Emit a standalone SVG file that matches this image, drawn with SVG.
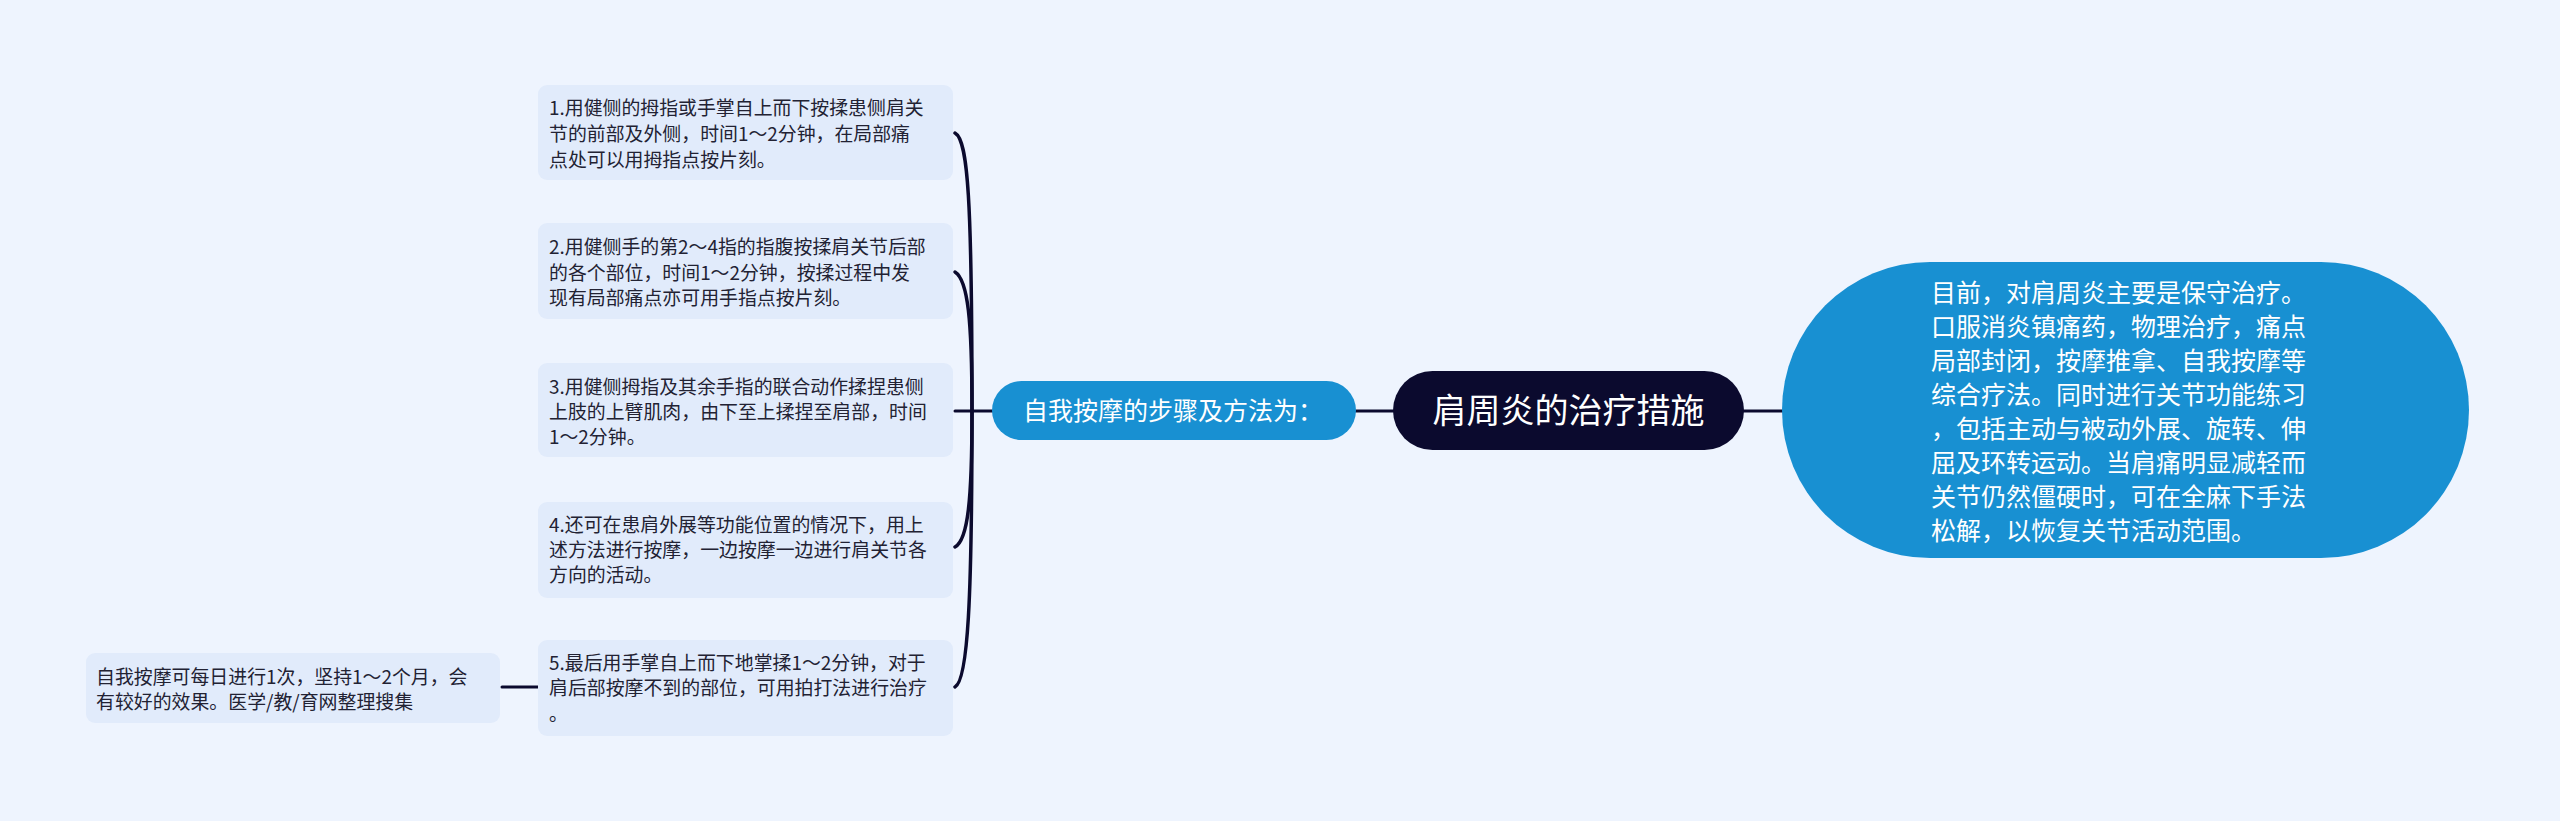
<svg xmlns="http://www.w3.org/2000/svg" width="2560" height="821" viewBox="0 0 2560 821">
<style>
.leaf{fill:#e1ebfb;}
.lt{font-family:"Noto Sans CJK SC","Noto Sans",sans-serif;font-size:18.9px;fill:#222233;}
.wt{font-family:"Noto Sans CJK SC","Noto Sans",sans-serif;fill:#ffffff;}
.con{fill:none;stroke:#0b0a2e;stroke-width:3;stroke-linecap:round;}
.cur{fill:none;stroke:#0b0a2e;stroke-width:3.5;stroke-linecap:round;}
</style>
<rect x="0" y="0" width="2560" height="821" fill="#eef4fe"/>
<g id="connectors">
<path class="con" d="M1356 411 L1393 411"/>
<path class="con" d="M1744 411 L1782 411"/>
<path class="con" d="M992 411 L955 411"/>
<path class="cur" d="M972 411 C972 200 968 140 955 133"/>
<path class="cur" d="M972 411 C972 320 968 280 955 272"/>
<path class="cur" d="M972 411 C972 500 968 540 955 547"/>
<path class="cur" d="M972 411 C972 600 968 680 955 687"/>
<path class="con" d="M538 687 L502 687"/>
</g>
<g id="center">
<rect x="1393" y="371" width="351" height="79" rx="39.5" fill="#0b0a2e"/>
<text class="wt" x="1568.5" y="423" font-size="34" text-anchor="middle">肩周炎的治疗措施</text>
</g>
<g id="right-node">
<rect x="1782" y="262" width="687" height="296" rx="148" ry="148" fill="#1890d2"/>
<text class="wt" font-size="25">
<tspan x="1931" y="302">目前，对肩周炎主要是保守治疗。</tspan>
<tspan x="1931" y="336">口服消炎镇痛药，物理治疗，痛点</tspan>
<tspan x="1931" y="370">局部封闭，按摩推拿、自我按摩等</tspan>
<tspan x="1931" y="404">综合疗法。同时进行关节功能练习</tspan>
<tspan x="1931" y="438">，包括主动与被动外展、旋转、伸</tspan>
<tspan x="1931" y="472">屈及环转运动。当肩痛明显减轻而</tspan>
<tspan x="1931" y="506">关节仍然僵硬时，可在全麻下手法</tspan>
<tspan x="1931" y="540">松解，以恢复关节活动范围。</tspan>
</text>
</g>
<g id="steps">
<rect x="992" y="381" width="364" height="59" rx="29.5" fill="#1890d2"/>
<text class="wt" x="1023" y="419.5" font-size="25">自我按摩的步骤及方法为：</text>
</g>
<g id="step1">
<rect class="leaf" x="538" y="85" width="415" height="95" rx="9"/>
<text class="lt"><tspan x="549" y="115">1.用健侧的拇指或手掌自上而下按揉患侧肩关</tspan><tspan x="549" y="141">节的前部及外侧，时间1～2分钟，在局部痛</tspan><tspan x="549" y="167">点处可以用拇指点按片刻。</tspan></text>
</g>
<g id="step2">
<rect class="leaf" x="538" y="223" width="415" height="96" rx="9"/>
<text class="lt"><tspan x="549" y="254">2.用健侧手的第2～4指的指腹按揉肩关节后部</tspan><tspan x="549" y="280">的各个部位，时间1～2分钟，按揉过程中发</tspan><tspan x="549" y="305">现有局部痛点亦可用手指点按片刻。</tspan></text>
</g>
<g id="step3">
<rect class="leaf" x="538" y="363" width="415" height="94" rx="9"/>
<text class="lt"><tspan x="549" y="394">3.用健侧拇指及其余手指的联合动作揉捏患侧</tspan><tspan x="549" y="419">上肢的上臂肌肉，由下至上揉捏至肩部，时间</tspan><tspan x="549" y="444">1～2分钟。</tspan></text>
</g>
<g id="step4">
<rect class="leaf" x="538" y="502" width="415" height="96" rx="9"/>
<text class="lt"><tspan x="549" y="532">4.还可在患肩外展等功能位置的情况下，用上</tspan><tspan x="549" y="557">述方法进行按摩，一边按摩一边进行肩关节各</tspan><tspan x="549" y="582">方向的活动。</tspan></text>
</g>
<g id="step5">
<rect class="leaf" x="538" y="640" width="415" height="96" rx="9"/>
<text class="lt"><tspan x="549" y="670">5.最后用手掌自上而下地掌揉1～2分钟，对于</tspan><tspan x="549" y="695">肩后部按摩不到的部位，可用拍打法进行治疗</tspan><tspan x="549" y="721">。</tspan></text>
</g>
<g id="note">
<rect class="leaf" x="86" y="653" width="414" height="70" rx="9"/>
<text class="lt"><tspan x="96" y="684">自我按摩可每日进行1次，坚持1～2个月，会</tspan><tspan x="96" y="709">有较好的效果。医学/教/育网整理搜集</tspan></text>
</g>
</svg>
